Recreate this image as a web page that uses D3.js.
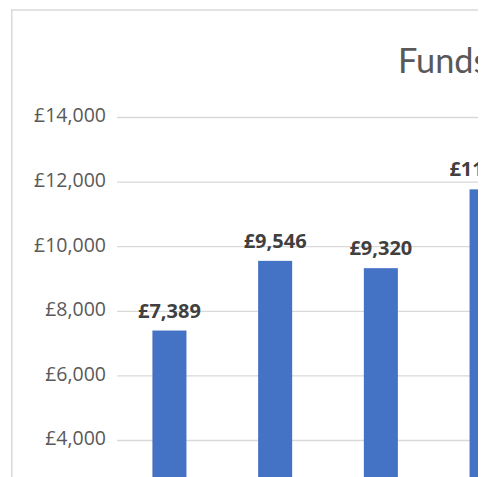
<!DOCTYPE html>
<html>
<head>
<meta charset="utf-8">
<script src="https://cdn.jsdelivr.net/npm/d3@7"></script>
<style>
  body { margin: 0; background: #fff; }
  svg { display: block; }
</style>
</head>
<body>
<div id="chart-area"></div>
<script>
// data (only the first four bars are visible)
const categories = ['1', '2', '3', '4'];
const values = [7389, 9546, 9320, 11760];
const yTicks = [4000, 6000, 8000, 10000, 12000, 14000];
const title = 'Funds raised';

// the reference is a crop of a larger chart, so the plot runs past the window
const W = 485, H = 477;
const visibleRight = 478;
const plotLeft = 117;
const step = 105.5;

const x = d3.scaleBand()
  .domain(categories)
  .range([plotLeft, plotLeft + step * categories.length])
  .paddingInner(0.678)
  .paddingOuter(0.335);

const y = d3.scaleLinear()
  .domain([0, 14000])
  .range([569.2, 117]);

const fmt = v => '£' + d3.format(',')(v);
const font = "'Open Sans', sans-serif";
const titleFont = "Lato, sans-serif";

const svg = d3.select('#chart-area')
  .append('svg')
  .attr('width', W)
  .attr('height', H);

svg.append('defs')
  .append('clipPath')
  .attr('id', 'clip')
  .append('rect')
  .attr('x', 0)
  .attr('y', 0)
  .attr('width', visibleRight)
  .attr('height', H);

const chart = svg.append('g')
  .attr('clip-path', 'url(#clip)');

// chart frame
chart.append('rect')
  .attr('x', 11.75)
  .attr('y', 10)
  .attr('width', 800)
  .attr('height', 800)
  .attr('fill', 'none')
  .attr('stroke', '#d9d9d9')
  .attr('stroke-width', 1.5);

// title
chart.append('text')
  .attr('x', 398)
  .attr('y', 73)
  .attr('font-family', titleFont)
  .attr('font-size', '34.3px')
  .attr('fill', '#595959')
  .text(title);

// y axis with gridlines
const yAxis = d3.axisLeft(y)
  .tickValues(yTicks)
  .tickFormat(fmt)
  .tickSize(-(step * categories.length))
  .tickPadding(11);

const yg = chart.append('g')
  .attr('class', 'y-axis')
  .attr('transform', 'translate(' + plotLeft + ',0)')
  .call(yAxis);

yg.select('.domain').remove();
yg.selectAll('line')
  .attr('stroke', '#d9d9d9')
  .attr('stroke-width', 1.3);
yg.selectAll('text')
  .attr('font-family', font)
  .attr('font-size', '19.5px')
  .attr('fill', '#595959')
  .attr('dy', '0.25em');

// bars
chart.selectAll('.bar')
  .data(values)
  .join('rect')
  .attr('class', 'bar')
  .attr('x', (d, i) => x(categories[i]))
  .attr('y', d => y(d))
  .attr('width', x.bandwidth())
  .attr('height', d => y(0) - y(d))
  .attr('fill', '#4472c4');

// data labels
chart.selectAll('.label')
  .data(values)
  .join('text')
  .attr('class', 'label')
  .attr('x', (d, i) => x(categories[i]) + x.bandwidth() / 2)
  .attr('y', d => y(d) - 13)
  .attr('text-anchor', 'middle')
  .attr('font-family', font)
  .attr('font-size', '20px')
  .attr('font-weight', 'bold')
  .attr('fill', '#404040')
  .text(fmt);
</script>
</body>
</html>
